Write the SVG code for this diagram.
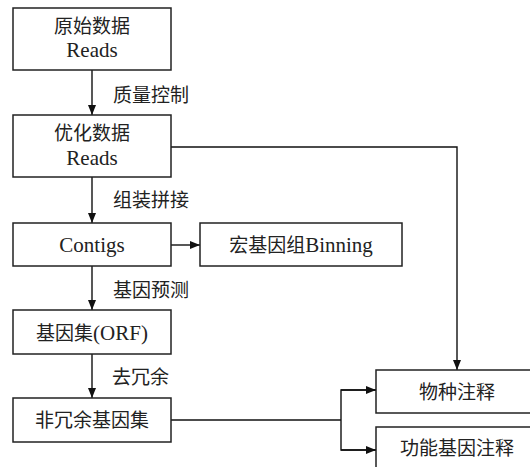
<svg xmlns="http://www.w3.org/2000/svg" width="530" height="467" viewBox="0 0 530 467">
<defs>
<marker id="ah" markerWidth="10" markerHeight="8" refX="10" refY="4" orient="auto" markerUnits="userSpaceOnUse">
<path d="M0,0 L10,4 L0,8 Z" fill="#111"/>
</marker>
<style>
.box{fill:#fff;stroke:#222;stroke-width:1.5}
.t{font-family:"Liberation Serif","Noto Sans CJK SC",serif;font-size:19px;fill:#222;text-anchor:middle;dominant-baseline:central}
.l{font-family:"Liberation Serif","Noto Sans CJK SC",serif;font-size:19px;fill:#222;dominant-baseline:central}
.lat{font-size:21px}
.c{fill:none;stroke:#111;stroke-width:1.4}
</style>
</defs>
<rect width="530" height="467" fill="#fff"/>
<g id="connectors">
<line class="c" x1="92" y1="70" x2="92" y2="115" marker-end="url(#ah)"/>
<line class="c" x1="92" y1="177" x2="92" y2="223" marker-end="url(#ah)"/>
<line class="c" x1="171" y1="245" x2="200" y2="245" marker-end="url(#ah)"/>
<line class="c" x1="92" y1="266" x2="92" y2="310" marker-end="url(#ah)"/>
<line class="c" x1="92" y1="354" x2="92" y2="398" marker-end="url(#ah)"/>
<polyline class="c" points="171,147 457,147 457,370" marker-end="url(#ah)"/>
<polyline class="c" points="171,420 341,420"/>
<polyline class="c" points="376,390 341,390 341,450 376,450"/>
<line class="c" x1="341" y1="390" x2="376" y2="390" marker-end="url(#ah)"/>
<line class="c" x1="341" y1="450" x2="376" y2="450" marker-end="url(#ah)"/>
<text class="l" x="113" y="95">质量控制</text>
<text class="l" x="113" y="200">组装拼接</text>
<text class="l" x="113" y="290">基因预测</text>
<text class="l" x="112" y="377">去冗余</text>
</g>
<g id="raw">
<rect class="box" x="13" y="8" width="158" height="62"/>
<text class="t" x="92" y="26">原始数据</text>
<text class="t lat" x="92" y="50">Reads</text>
</g>
<g id="clean">
<rect class="box" x="13" y="115" width="158" height="62"/>
<text class="t" x="92" y="133">优化数据</text>
<text class="t lat" x="92" y="158">Reads</text>
</g>
<g id="contigs">
<rect class="box" x="13" y="223" width="158" height="43"/>
<text class="t lat" x="92" y="245">Contigs</text>
</g>
<g id="binning">
<rect class="box" x="200" y="223" width="202" height="43"/>
<text class="t" x="301" y="245">宏基因组<tspan class="lat">Binning</tspan></text>
</g>
<g id="orf">
<rect class="box" x="13" y="310" width="158" height="44"/>
<text class="t" x="92" y="333">基因集<tspan class="lat">(ORF)</tspan></text>
</g>
<g id="nr">
<rect class="box" x="13" y="398" width="158" height="44"/>
<text class="t" x="92" y="420">非冗余基因集</text>
</g>
<g id="species">
<rect class="box" x="376" y="370" width="160" height="43"/>
<text class="t" x="457" y="392">物种注释</text>
</g>
<g id="function">
<rect class="box" x="376" y="427" width="160" height="50"/>
<text class="t" x="457" y="448">功能基因注释</text>
</g>
</svg>
